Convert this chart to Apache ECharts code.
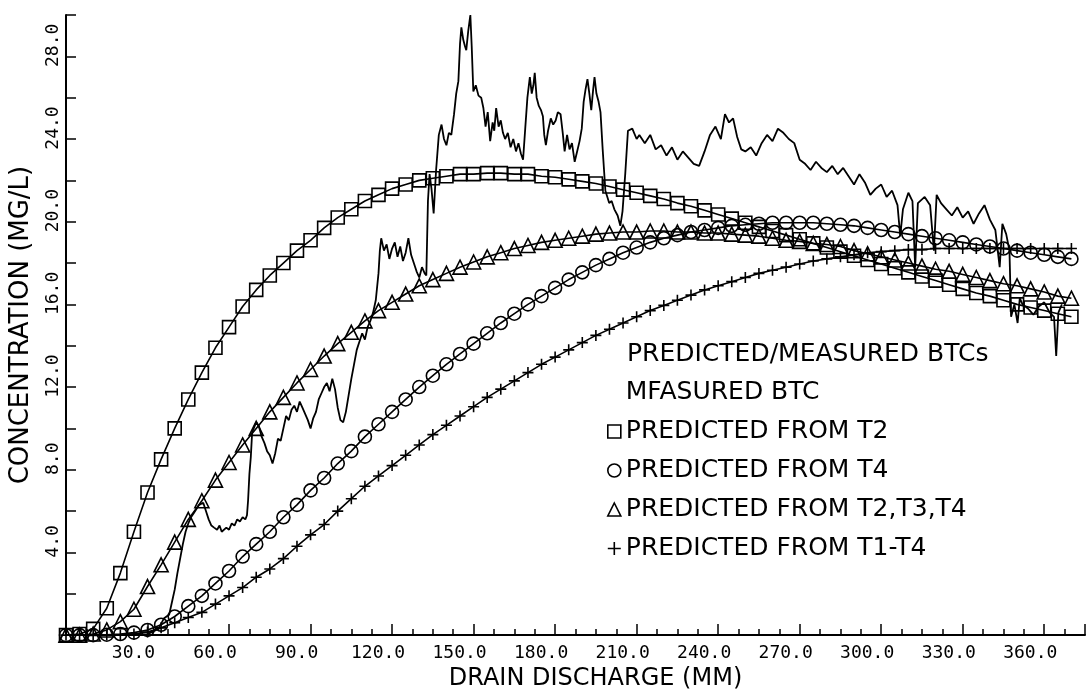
<!DOCTYPE html>
<html lang="en">
<head>
    <meta charset="UTF-8">
    <title>Predicted/measured BTCs</title>
    <script src="https://cdn.jsdelivr.net/npm/echarts@6/dist/echarts.min.js"></script>
</head>
<body style="margin:0;background:#fff">
<div id="main" style="width:1088px;height:696px"></div>
<script type="text/javascript">

    // drain discharge (mm) where the predicted curves are plotted
    var xs = [0, 5, 10, 15, 20, 25, 30, 35, 40, 45, 50, 55, 60, 65, 70, 75, 80, 85, 90, 95,
        100, 105, 110, 115, 120, 125, 130, 135, 140, 145, 150, 155, 160, 165, 170, 175, 180, 185, 190, 195,
        200, 205, 210, 215, 220, 225, 230, 235, 240, 245, 250, 255, 260, 265, 270, 275, 280, 285, 290, 295,
        300, 305, 310, 315, 320, 325, 330, 335, 340, 345, 350, 355, 360, 365, 370];

    // predicted from T2 (squares)
    var t2 = [0.0, 0.05, 0.3, 1.3, 3.0, 5.0, 6.9, 8.5, 10.0, 11.4,
        12.7, 13.9, 14.9, 15.9, 16.7, 17.4, 18.0, 18.6, 19.1, 19.7,
        20.2, 20.6, 21.0, 21.3, 21.6, 21.8, 22.0, 22.1, 22.2, 22.3,
        22.3, 22.35, 22.35, 22.3, 22.3, 22.2, 22.15, 22.05, 21.95, 21.85,
        21.7, 21.55, 21.4, 21.25, 21.1, 20.9, 20.75, 20.55, 20.35, 20.15,
        19.95, 19.75, 19.55, 19.35, 19.15, 18.95, 18.75, 18.55, 18.35, 18.15,
        17.95, 17.75, 17.55, 17.35, 17.15, 16.95, 16.75, 16.55, 16.4, 16.2,
        16.0, 15.85, 15.7, 15.55, 15.4];

    // predicted from T4 (circles)
    var t4 = [0, 0, 0, 0.02, 0.05, 0.12, 0.25, 0.5, 0.9, 1.4,
        1.9, 2.5, 3.1, 3.8, 4.4, 5.0, 5.7, 6.3, 7.0, 7.6,
        8.3, 8.9, 9.6, 10.2, 10.8, 11.4, 12.0, 12.55, 13.1, 13.6,
        14.1, 14.6, 15.1, 15.55, 16.0, 16.4, 16.8, 17.2, 17.55, 17.9,
        18.2, 18.5, 18.75, 19.0, 19.2, 19.35, 19.5, 19.6, 19.7, 19.8,
        19.85, 19.9, 19.95, 19.95, 19.95, 19.95, 19.9, 19.85, 19.8, 19.7,
        19.6, 19.5, 19.4, 19.3, 19.2, 19.1, 19.0, 18.9, 18.8, 18.7,
        18.6, 18.5, 18.4, 18.3, 18.2];

    // predicted from T2,T3,T4 (triangles)
    var t234 = [0, 0, 0.05, 0.25, 0.65, 1.25, 2.35, 3.4, 4.5, 5.6,
        6.5, 7.5, 8.35, 9.2, 10.0, 10.8, 11.5, 12.2, 12.85, 13.5,
        14.1, 14.65, 15.2, 15.7, 16.1, 16.5, 16.9, 17.2, 17.5, 17.8,
        18.05, 18.3, 18.5, 18.7, 18.85, 19.0, 19.1, 19.2, 19.3, 19.4,
        19.45, 19.5, 19.5, 19.55, 19.55, 19.5, 19.5, 19.45, 19.45, 19.4,
        19.35, 19.3, 19.2, 19.1, 19.05, 18.95, 18.9, 18.8, 18.6, 18.45,
        18.3, 18.15, 18.0, 17.85, 17.7, 17.6, 17.45, 17.3, 17.15, 17.0,
        16.9, 16.75, 16.6, 16.4, 16.3];

    // predicted from T1-T4 (plus)
    var t1to4 = [0, 0, 0, 0, 0, 0.05, 0.15, 0.35, 0.6, 0.85,
        1.1, 1.5, 1.9, 2.3, 2.8, 3.2, 3.7, 4.3, 4.85, 5.35,
        6.0, 6.6, 7.2, 7.7, 8.2, 8.7, 9.2, 9.7, 10.15, 10.6,
        11.05, 11.5, 11.9, 12.3, 12.7, 13.1, 13.45, 13.8, 14.15, 14.5,
        14.8, 15.1, 15.4, 15.7, 15.95, 16.2, 16.45, 16.7, 16.9, 17.1,
        17.3, 17.5, 17.65, 17.8, 17.95, 18.1, 18.2, 18.3, 18.4, 18.5,
        18.55, 18.6, 18.65, 18.65, 18.7, 18.7, 18.7, 18.7, 18.7, 18.7,
        18.7, 18.7, 18.7, 18.7, 18.7];

    // measured BTC [discharge, concentration]
    var measured = [[0, 0], [20, 0], [30, 0.05], [34, 0.3], [36, 0.8], [38, 1.0], [39, 1.6], [40, 2.2], [41, 3.0], [42, 3.7],
        [43, 4.4], [44, 5.0], [45, 5.4], [46, 5.7], [47, 5.9], [48, 6.1], [49, 6.3], [50.5, 6.4], [51.5, 6.0], [52.5, 5.6],
        [53.5, 5.3], [54.5, 5.2], [55.6, 5.1], [56.5, 5.3], [57.3, 5.0], [58, 5.0], [59, 5.2], [60, 5.1], [61, 5.4], [62, 5.3],
        [63, 5.6], [64, 5.5], [65, 5.7], [66, 5.6], [66.6, 5.8], [67, 6.5], [67.5, 7.8], [68, 8.6], [68.5, 9.8], [69, 9.8],
        [70, 10.3], [71, 10.1], [72, 9.6], [73, 9.3], [74, 8.9], [75, 8.7], [76, 8.3], [77, 8.8], [78, 9.5], [79, 9.4],
        [80, 10.0], [81, 10.6], [82, 10.4], [83, 10.9], [84, 11.1], [85, 10.8], [86, 11.3], [87, 11.0], [88, 10.7], [89, 10.4],
        [90, 10.0], [91, 10.5], [92, 10.8], [93, 11.4], [94, 11.7], [95, 12.0], [96, 12.2], [97, 11.8], [98, 12.4], [99, 11.9],
        [100, 11.0], [101, 10.4], [102, 10.3], [103, 10.8], [104, 11.6], [105, 12.4], [106, 13.1], [107, 13.8], [108, 14.2], [109, 14.6],
        [110, 14.3], [111, 14.9], [112, 15.2], [113, 15.6], [114, 16.2], [115, 17.5], [115.5, 18.6], [116, 19.2], [117, 18.6], [118, 18.9],
        [119, 18.2], [120, 18.7], [121, 19.0], [122, 18.3], [123, 18.8], [124, 18.1], [125, 18.5], [126, 19.2], [127, 18.4], [128, 18.0],
        [129, 17.6], [130, 17.3], [131, 17.8], [132, 17.5], [132.6, 17.4], [133.2, 21.0], [133.8, 22.3], [134.5, 21.6], [135.3, 20.4], [136.2, 22.5],
        [137.2, 24.2], [138.2, 24.7], [139.1, 24.0], [140.0, 23.7], [140.9, 24.3], [141.8, 24.2], [142.8, 25.2], [143.6, 26.2], [144.4, 26.8], [145.0, 28.6],
        [145.5, 29.4], [146.2, 28.8], [146.8, 28.5], [147.3, 28.3], [148.0, 29.2], [148.8, 30.0], [149.3, 28.5], [149.9, 26.3], [150.8, 26.6], [151.8, 26.1],
        [152.8, 26.0], [153.6, 25.5], [154.4, 24.6], [155.2, 25.3], [156.1, 23.9], [157.0, 24.8], [157.6, 24.4], [158.3, 25.5], [159.2, 24.6], [160.0, 24.9],
        [160.8, 24.3], [161.6, 24.0], [162.6, 24.3], [163.6, 23.6], [164.6, 24.0], [165.6, 23.4], [166.5, 23.8], [167.4, 23.3], [168.2, 23.0], [169.0, 24.5],
        [169.8, 26.0], [170.7, 27.0], [171.4, 26.2], [172.0, 26.6], [172.5, 27.2], [173.2, 26.0], [174.0, 25.6], [174.8, 25.4], [175.5, 25.1], [176.0, 24.2],
        [176.6, 23.7], [177.4, 24.4], [178.4, 25.0], [179.3, 24.7], [180.2, 24.9], [181.0, 25.3], [182.0, 25.2], [182.8, 24.3], [183.5, 23.4], [184.4, 24.2],
        [185.3, 23.5], [186.2, 23.8], [187.2, 22.9], [188.1, 23.4], [189.0, 23.9], [189.8, 24.5], [190.5, 25.8], [191.2, 26.4], [191.9, 26.9], [192.6, 26.2],
        [193.3, 25.4], [194.0, 26.4], [194.5, 27.0], [195.2, 26.2], [196.0, 25.8], [196.7, 25.3], [197.5, 23.5], [198.5, 21.5], [199.9, 20.9], [200.8, 21.0],
        [201.8, 20.6], [203.0, 20.3], [204.0, 19.8], [204.8, 20.5], [205.8, 22.3], [206.8, 24.4], [208.4, 24.5], [210, 24.0], [211, 24.2], [213, 23.8],
        [215, 24.2], [217, 23.5], [219, 23.7], [221, 23.2], [223, 23.6], [225, 23.0], [227, 23.4], [229, 23.1], [231, 22.8], [233, 22.7],
        [235, 23.4], [237, 24.2], [239, 24.6], [241, 24.0], [242.5, 25.2], [244, 24.8], [245.5, 25.0], [247, 24.1], [248.5, 23.5], [250, 23.4],
        [252, 23.6], [254, 23.2], [256, 23.8], [258, 24.2], [260, 23.9], [262, 24.5], [264, 24.3], [266, 24.0], [268, 23.8], [270, 23.0],
        [272, 22.8], [274, 22.5], [276, 22.9], [278, 22.6], [280, 22.4], [282, 22.7], [284, 22.3], [286, 22.6], [288, 22.2], [290, 21.8],
        [292, 22.3], [294, 21.9], [296, 21.3], [298, 21.6], [300, 21.8], [302, 21.2], [304, 21.5], [306, 20.8], [307, 19.3], [308, 20.6],
        [310, 21.4], [311.5, 21.0], [312.5, 17.8], [313.5, 20.9], [316, 21.2], [318, 20.8], [319.4, 18.6], [320.4, 21.3], [322, 20.9], [324, 20.6],
        [326, 20.3], [328, 20.7], [330, 20.2], [332, 20.5], [334, 19.9], [336, 20.4], [338, 20.8], [340, 20.1], [342, 19.6], [343.6, 17.8],
        [344.6, 19.9], [346, 19.4], [347.2, 18.6], [347.8, 15.4], [349, 16.0], [350.2, 15.1], [351, 16.3], [352, 16.0], [354, 15.8], [356, 15.5],
        [358, 15.9], [360, 16.1], [362, 15.6], [363.6, 15.4], [364.4, 13.5], [365.2, 15.6], [366.5, 16.0]];

    var names = ['MFASURED BTC', 'PREDICTED FROM T2', 'PREDICTED FROM T4', 'PREDICTED FROM T2,T3,T4', 'PREDICTED FROM T1-T4'];

    var black = '#000';
    var hollow = {color: 'rgba(0,0,0,0)', borderColor: black, borderWidth: 1.6};
    var plusPath = 'path://M0,5H10M5,0V10';

    function predicted(name, ys, symbol, size) {
        return {
            name: name,
            type: 'line',
            data: xs.map(function (x, i) { return [x, ys[i]]; }),
            symbol: symbol,
            symbolSize: size,
            showAllSymbol: true,
            lineStyle: {color: black, width: 1.6},
            itemStyle: hollow,
            emphasis: {disabled: true}
        };
    }

    var chart = echarts.init(document.getElementById('main'));

    var option = {
        animation: false,
        backgroundColor: '#fff',
        title: {
            text: 'PREDICTED/MEASURED BTCs',
            left: 627, top: 342, padding: 0,
            textStyle: {fontFamily: 'DejaVu Sans', fontSize: 25, fontWeight: 'normal', color: black}
        },
        legend: {
            orient: 'vertical',
            left: 607, top: 380, padding: 0,
            itemGap: 14, itemWidth: 13, itemHeight: 13,
            selectedMode: false,
            textStyle: {fontFamily: 'DejaVu Sans', fontSize: 25, color: black},
            itemStyle: hollow,
            data: [
                {name: names[0], icon: 'none'},
                {name: names[1], icon: 'rect'},
                {name: names[2], icon: 'circle'},
                {name: names[3], icon: 'triangle'},
                {name: names[4], icon: plusPath}
            ]
        },
        grid: {left: 65, top: 15, right: 0, bottom: 51},
        xAxis: {
            type: 'value', min: 0, max: 375, interval: 30,
            name: 'DRAIN DISCHARGE (MM)', nameLocation: 'middle', nameGap: 26,
            nameTextStyle: {fontFamily: 'DejaVu Sans', fontSize: 24, color: black, padding: [0, 0, 0, 40]},
            axisLine: {lineStyle: {color: black, width: 2}},
            axisTick: {inside: true, length: 11, lineStyle: {color: black, width: 1.5}},
            minorTick: {show: true, splitNumber: 4, length: 6, lineStyle: {color: black, width: 1.5}},
            splitLine: {show: false},
            axisLabel: {
                margin: 9, padding: [0, 28, 0, 0],
                fontFamily: 'DejaVu Sans Mono', fontSize: 18, color: black,
                formatter: function (v) { return v > 0 && v % 30 === 0 ? v.toFixed(1) : ''; }
            }
        },
        yAxis: {
            type: 'value', min: 0, max: 30, interval: 4,
            name: 'CONCENTRATION (MG/L)', nameLocation: 'middle', nameGap: 32, nameRotate: 90,
            nameTextStyle: {fontFamily: 'DejaVu Sans', fontSize: 26, color: black},
            axisLine: {lineStyle: {color: black, width: 2}},
            axisTick: {inside: true, length: 10, lineStyle: {color: black, width: 1.5}},
            minorTick: {show: true, splitNumber: 2, length: 10, lineStyle: {color: black, width: 1.5}},
            splitLine: {show: false},
            axisLabel: {
                rotate: 90, margin: 4, padding: [0, 0, 0, 22],
                fontFamily: 'DejaVu Sans Mono', fontSize: 18, color: black,
                formatter: function (v) { return v > 0 && v < 30 && v % 4 === 0 ? v.toFixed(1) : ''; }
            }
        },
        series: [
            {
                name: names[0],
                type: 'line',
                data: measured,
                showSymbol: false,
                lineStyle: {color: black, width: 1.8},
                itemStyle: {color: black},
                emphasis: {disabled: true},
                z: 3
            },
            predicted(names[1], t2, 'rect', 13),
            predicted(names[2], t4, 'circle', 13),
            predicted(names[3], t234, 'triangle', 14),
            predicted(names[4], t1to4, plusPath, 11)
        ]
    };

    chart.setOption(option);
</script>
</body>
</html>
